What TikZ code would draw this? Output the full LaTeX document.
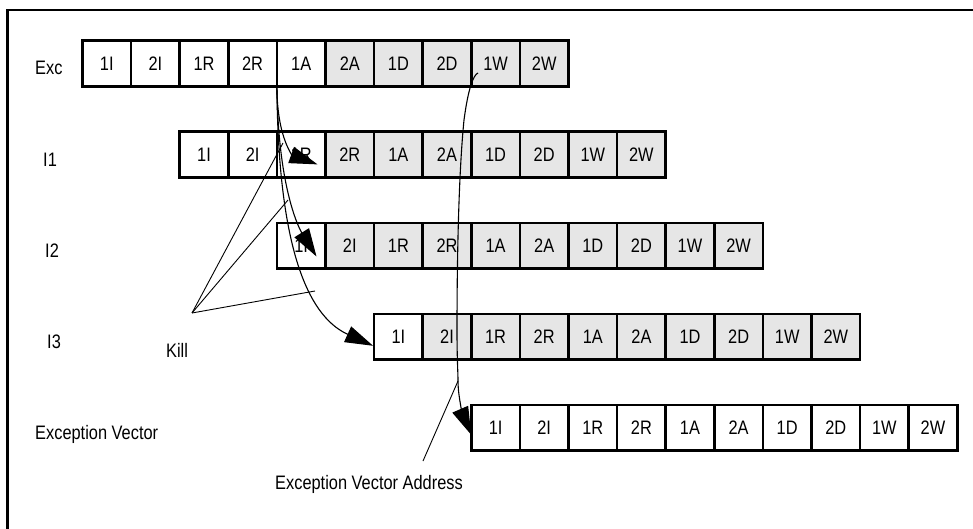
\documentclass[tikz,border=0pt]{standalone}
\usepackage{fontspec}
\setmainfont{Liberation Sans}[FakeStretch=0.84]
\usetikzlibrary{arrows.meta,calc}
\definecolor{cellgray}{HTML}{E6E6E6}
\begin{document}
\begin{tikzpicture}[x=1pt,y=-1pt,
  font=\fontsize{19.5}{22}\selectfont,
  cell/.style={draw, line width=2.6pt, minimum width=48.6pt, minimum height=45.6pt,
               inner sep=0pt, outer sep=0pt, anchor=north west},
  conn/.style={line width=1.1pt},
  thin/.style={line width=0.9pt},
  tip/.style={-{Triangle[length=28pt,width=17pt]}},
  lab/.style={anchor=west, inner sep=0pt}]
\useasboundingbox (0,0) rectangle (973,529);
% frame (right and bottom sides fall outside the picture)
\draw[line width=2.6pt] (7.3,545) -- (7.3,10) -- (995,10);
% pipeline rows
\foreach \r/\nm/\nw in {0/exc/5,1/ione/3,2/itwo/1,3/ithree/1,4/ev/10}{
  \foreach \lab [count=\i] in {1I,2I,1R,2R,1A,2A,1D,2D,1W,2W}{
    \ifnum\i>\nw \def\fc{cellgray}\else\def\fc{white}\fi
    \node[cell, fill=\fc] (\nm-\i) at ({82.5+97.2*\r+48.6*(\i-1)},{40.7+91.1*\r}) {\lab};
  }
}
% row labels
\node[lab] (lexc) at (35,68) {Exc};
\node[lab] (li1) at (43,160) {I1};
\node[lab] (li2) at (45,251) {I2};
\node[lab] (li3) at (47,342) {I3};
\node[lab] (lev) at (35,434) {Exception Vector};
\node[inner sep=0pt] (kill) at (177,350) {Kill};
\node[lab] (addr) at (275,484) {Exception Vector Address};
% named points
\coordinate (src) at (exc-5.south west);
\coordinate (t1) at ($(ione-3.south east)+(-8,-13)$);
\coordinate (t2) at ($(itwo-1.south east)+(-9,-12)$);
\coordinate (t3) at ($(ithree-1.west)+(-1,9)$);
\coordinate (evs) at ($(exc-9.center)+(-17.6,9.5)$);
\coordinate (split) at (458,381);
\coordinate (evtip) at ($(ev-1.west)+(0,7)$);
\coordinate (addrptr) at (423,461);
\coordinate (kapex) at (192,313);
\coordinate (k1) at (283,143);
\coordinate (k2) at (288,200);
\coordinate (k3) at (315,291);
% kill arrows from exception
\draw[conn,tip] (src) .. controls (277,140) and (294,156) .. (t1);
\draw[conn,tip] (src) .. controls (278,190) and (300,230) .. (t2);
\draw[conn,tip] (src) .. controls (278,240) and (305,315) .. (t3);
% exception vector path
\draw[conn,tip] (evs) .. controls (473,75) and (468,90) .. (464,120)
  .. controls (459,170) and (457,250) .. (457,330)
  .. controls (457,360) and (458,372) .. (split)
  .. controls (458,398) and (464,418) .. (evtip);
\draw[thin] (addrptr) -- (split);
% Kill pointers
\draw[thin] (kapex) -- (k1);
\draw[thin] (kapex) -- (k2);
\draw[thin] (kapex) -- (k3);
\end{tikzpicture}
\end{document}
